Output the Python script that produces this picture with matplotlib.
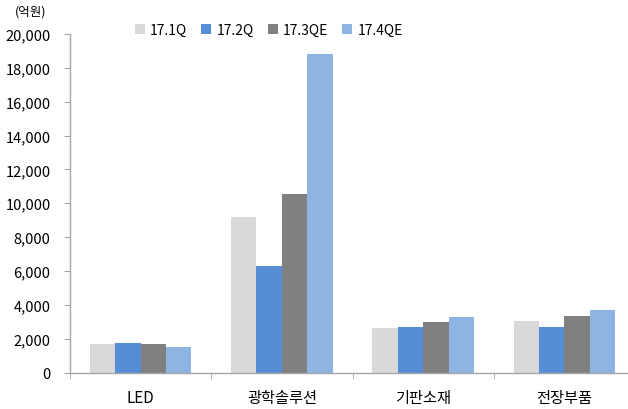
import numpy as np
import matplotlib
matplotlib.use("Agg")
import matplotlib.pyplot as plt
from matplotlib.ticker import FuncFormatter, FixedLocator

plt.rcParams['font.family'] = ['Noto Sans CJK KR', 'DejaVu Sans']

#==== data (억원) ====
categories = ["LED", "광학솔루션", "기판소재", "전장부품"]
series     = ["17.1Q", "17.2Q", "17.3QE", "17.4QE"]
q1  = [1710, 9200, 2620, 3030]
q2  = [1770, 6310, 2680, 2680]
q3e = [1690, 10560, 2960, 3350]
q4e = [1480, 18840, 3250, 3690]
colors = ["#D9D9D9", "#558ED5", "#808080", "#8EB4E3"]
yticks = np.arange(0, 20001, 2000)

values = [q1, q2, q3e, q4e]

fig = plt.figure(figsize=(6.28, 4.10), dpi=100)
ax = fig.add_axes([70/628, (410-373.5)/410, 1-70/628, (373.5-35)/410])

x = np.arange(len(categories))
w = 0.18
for i, (name, vals, c) in enumerate(zip(series, values, colors)):
    ax.bar(x + (i-1.5)*w, vals, width=w, color=c, label=name, zorder=2)

ax.set_xlim(-0.5, 3.45)
ax.set_ylim(0, 20000)
ax.set_yticks(yticks)
ax.yaxis.set_major_formatter(FuncFormatter(lambda v, p: "{:,.0f}".format(v)))
ax.tick_params(axis='y', direction='out', length=4, color='#A6A6A6', labelsize=10.5, pad=10, labelcolor='#000000')

# category labels centred, tick marks on group boundaries
ax.set_xticks(x)
ax.set_xticklabels(categories, fontsize=11)
ax.tick_params(axis='x', which='major', length=0, pad=12)
ax.xaxis.set_minor_locator(FixedLocator(np.arange(-0.5, 4, 1.0)))
ax.tick_params(axis='x', which='minor', direction='out', length=4, color='#A6A6A6')

for s in ['top', 'right']:
    ax.spines[s].set_visible(False)
for s in ['left', 'bottom']:
    ax.spines[s].set_color('#A6A6A6')
    ax.spines[s].set_linewidth(1.0)

ax.legend(loc='upper left', bbox_to_anchor=(0.094, 1.07), ncol=4, frameon=False,
          fontsize=10, handlelength=0.7, handleheight=0.7, handletextpad=0.4,
          columnspacing=1.0)

fig.text(15/628, 1-12/410, "(억원)", fontsize=9, va='center', ha='left')

fig.savefig("out.png", dpi=100)
